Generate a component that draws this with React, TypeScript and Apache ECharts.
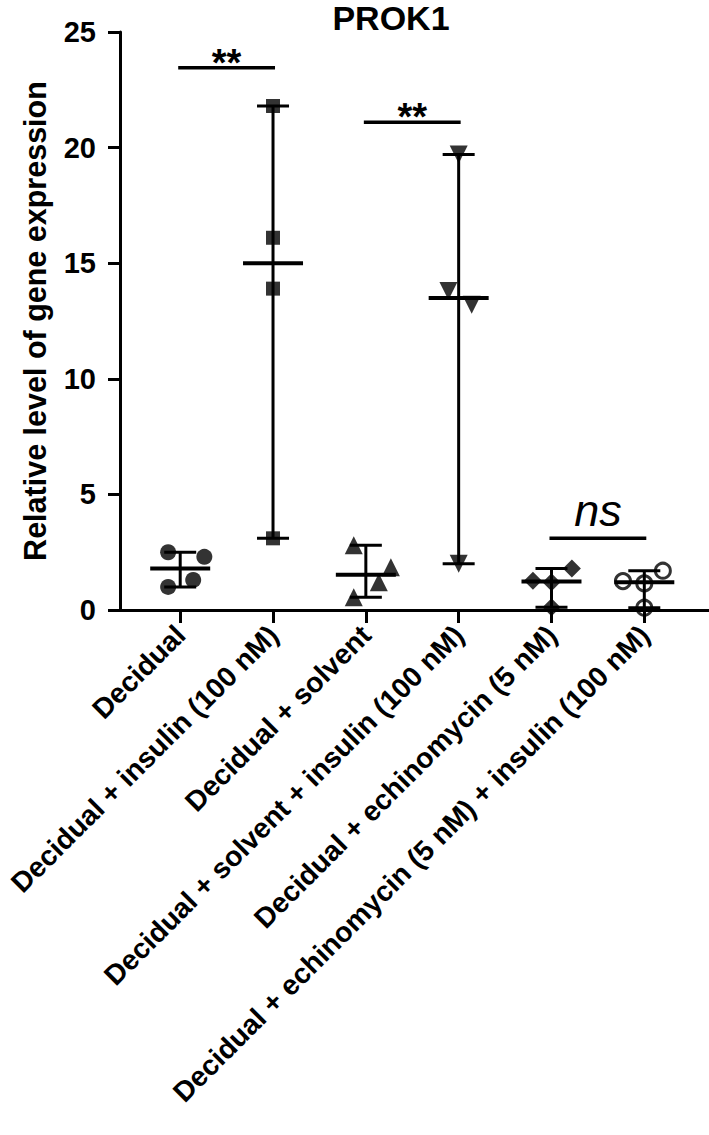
import React, { useEffect, useRef } from "react";
import * as echarts from "echarts";

const categories = [
  "Decidual",
  "Decidual + insulin (100 nM)",
  "Decidual + solvent",
  "Decidual + solvent + insulin (100 nM)",
  "Decidual + echinomycin (5 nM)",
  "Decidual + echinomycin (5 nM) + insulin (100 nM)",
];

const decidual = [2.5, 2.3, 1.3, 1.0];
const decidualJitter = [-0.13, 0.26, 0.14, -0.13];
const insulin = [21.8, 16.1, 13.9, 3.1];
const insulinJitter = [0, 0, 0, 0];
const solvent = [2.8, 1.85, 1.2, 0.55];
const solventJitter = [-0.13, 0.27, 0.14, -0.13];
const solventInsulin = [19.7, 13.8, 13.2, 2.0];
const solventInsulinJitter = [0, -0.11, 0.14, 0];
const echinomycin = [1.8, 1.27, 1.2, 0.12];
const echinomycinJitter = [0.22, -0.2, 0, 0];
const echinoInsulin = [1.7, 1.25, 1.15, 0.1];
const echinoInsulinJitter = [0.2, -0.23, 0, 0];

const yTicks = [0, 5, 10, 15, 20, 25];

const sigFrom = [1, 3, 5];
const sigTo = [2, 4, 6];
const sigY = [23.45, 21.1, 3.1];
const sigLabels = ["**", "**", "ns"];

const groups = [decidual, insulin, solvent, solventInsulin, echinomycin, echinoInsulin];
const jitters = [decidualJitter, insulinJitter, solventJitter, solventInsulinJitter, echinomycinJitter, echinoInsulinJitter];

const FONT = "'Liberation Sans', Arial, sans-serif";

function median(a: number[]) {
  const s = [...a].sort((x, y) => x - y);
  const m = Math.floor(s.length / 2);
  return s.length % 2 ? s[m] : (s[m - 1] + s[m]) / 2;
}

const markerStyles: any[] = [
  { symbol: "circle", symbolSize: 16, itemStyle: { color: "#000" } },
  { symbol: "rect", symbolSize: 14, itemStyle: { color: "#000" } },
  { symbol: "triangle", symbolSize: 18, itemStyle: { color: "#000" } },
  { symbol: "triangle", symbolSize: 18, symbolRotate: 180, itemStyle: { color: "#000" } },
  { symbol: "diamond", symbolSize: 18, itemStyle: { color: "#000" } },
  { symbol: "circle", symbolSize: 15, itemStyle: { color: "rgba(0,0,0,0)", borderColor: "#000", borderWidth: 3 } },
];

export default function App() {
  const ref = useRef<HTMLDivElement>(null);
  useEffect(() => {
    if (!ref.current) return;
    const chart = echarts.init(ref.current, null, { renderer: "svg" });

    const scatterSeries = groups.map((vals, gi) => ({
      type: "scatter",
      clip: false,
      z: 2,
      ...markerStyles[gi],
      data: vals.map((v, i) => [gi + 1 + jitters[gi][i], v]),
    }));

    const errData = groups.map((vals, gi) => [gi + 1, Math.min(...vals), Math.max(...vals), median(vals)]);

    const sigData = sigFrom.map((f, i) => [f, sigTo[i], sigY[i], i]);

    const option: any = {
      animation: false,
      backgroundColor: "#fff",
      grid: { left: 120, right: 0, top: 32, bottom: 525, containLabel: false, outerBoundsMode: "none" },
      graphic: [
        {
          type: "text",
          x: 391,
          y: 1,
          style: { text: "PROK1", font: `bold 34px ${FONT}`, fill: "#000", textAlign: "center", textVerticalAlign: "top" },
        },
      ],
      xAxis: {
        type: "value",
        min: 0.3514,
        max: 6.697,
        splitLine: { show: false },
        axisLine: { show: true, lineStyle: { color: "#000", width: 3 } },
        axisTick: { show: true, length: 13, lineStyle: { color: "#000", width: 3 }, customValues: [1, 2, 3, 4, 5, 6] },
        axisLabel: {
          customValues: [1, 2, 3, 4, 5, 6],
          rotate: 45,
          margin: 20,
          fontFamily: FONT,
          fontWeight: "bold",
          fontSize: 28.3,
          color: "#000",
          formatter: (v: number) => categories[Math.round(v) - 1] ?? "",
        },
      },
      yAxis: {
        type: "value",
        min: 0,
        max: 25,
        interval: 5,
        name: "Relative level of gene expression",
        nameLocation: "middle",
        nameRotate: 90,
        nameGap: 70,
        nameTextStyle: { fontFamily: FONT, fontWeight: "bold", fontSize: 30.5, color: "#000" },
        splitLine: { show: false },
        axisLine: { show: true, lineStyle: { color: "#000", width: 3 } },
        axisTick: { show: true, length: 12, lineStyle: { color: "#000", width: 3 }, customValues: yTicks },
        axisLabel: {
          margin: 24,
          fontFamily: FONT,
          fontWeight: "bold",
          fontSize: 29,
          color: "#000",
          customValues: yTicks,
        },
      },
      series: [
        ...scatterSeries,
        {
          type: "custom",
          z: 3,
          clip: false,
          data: errData,
          encode: { x: 0, y: [1, 2, 3] },
          renderItem: (params: any, api: any) => {
            const x = api.value(0);
            const pLo = api.coord([x, api.value(1)]);
            const pHi = api.coord([x, api.value(2)]);
            const pMed = api.coord([x, api.value(3)]);
            const st = { stroke: "#000", lineWidth: 3 };
            return {
              type: "group",
              children: [
                { type: "line", shape: { x1: pLo[0], y1: pLo[1], x2: pHi[0], y2: pHi[1] }, style: st },
                { type: "line", shape: { x1: pHi[0] - 16, y1: pHi[1], x2: pHi[0] + 16, y2: pHi[1] }, style: st },
                { type: "line", shape: { x1: pLo[0] - 16, y1: pLo[1], x2: pLo[0] + 16, y2: pLo[1] }, style: st },
                { type: "line", shape: { x1: pMed[0] - 30, y1: pMed[1], x2: pMed[0] + 30, y2: pMed[1] }, style: { stroke: "#000", lineWidth: 4 } },
              ],
            };
          },
        },
        {
          type: "custom",
          z: 3,
          clip: false,
          data: sigData,
          encode: { x: [0, 1], y: 2 },
          renderItem: (params: any, api: any) => {
            const p1 = api.coord([api.value(0), api.value(2)]);
            const p2 = api.coord([api.value(1), api.value(2)]);
            const label = sigLabels[api.value(3)];
            const isNs = label === "ns";
            return {
              type: "group",
              children: [
                { type: "line", shape: { x1: p1[0] - 2, y1: p1[1], x2: p2[0] + 2, y2: p2[1] }, style: { stroke: "#000", lineWidth: 3.5 } },
                {
                  type: "text",
                  x: (p1[0] + p2[0]) / 2,
                  y: p1[1] - (isNs ? 28 : 5),
                  style: {
                    text: label,
                    fill: "#000",
                    font: isNs ? `italic 45px ${FONT}` : `bold 38px ${FONT}`,
                    textAlign: "center",
                    textVerticalAlign: "middle",
                  },
                },
              ],
            };
          },
        },
      ],
    };
    chart.setOption(option);
    return () => chart.dispose();
  }, []);
  return <div ref={ref} style={{ position: "fixed", left: 0, top: 0, width: 709, height: 1135 }} />;
}
